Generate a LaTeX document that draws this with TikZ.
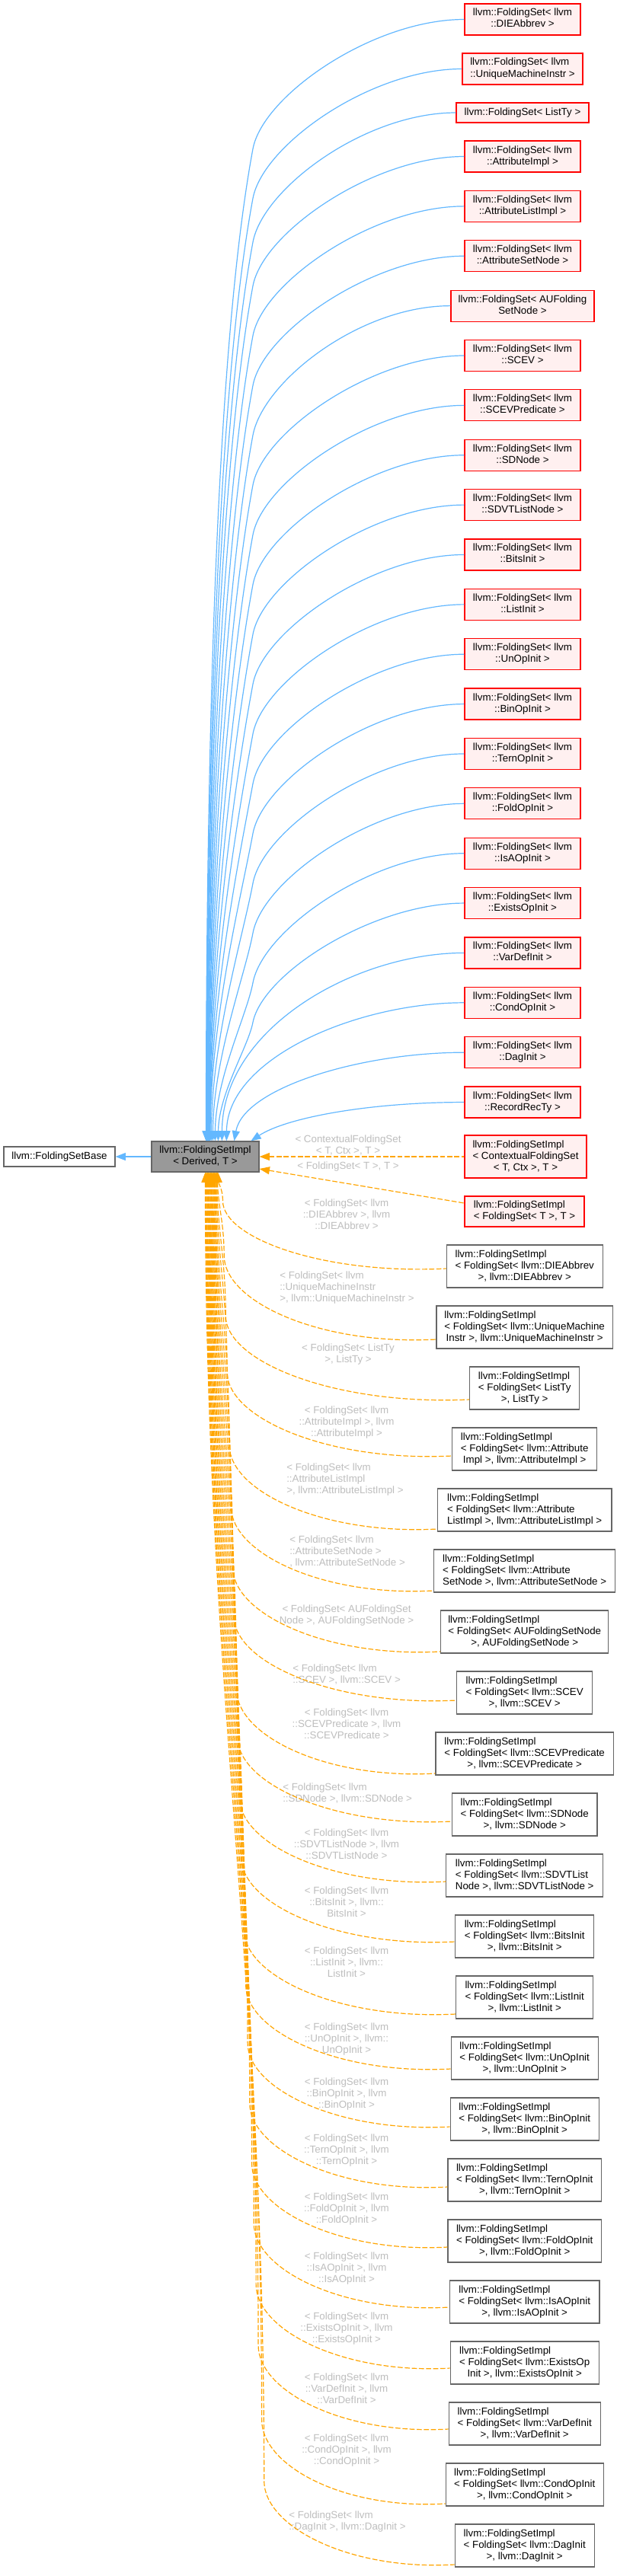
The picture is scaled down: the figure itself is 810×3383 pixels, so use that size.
\documentclass[tikz,border=0pt]{standalone}
\usepackage{fontspec}
\setmainfont{Liberation Sans}
\usetikzlibrary{arrows.meta,calc}
\definecolor{rfill}{HTML}{FFF0F0}
\definecolor{rline}{HTML}{FF0000}
\definecolor{gline}{HTML}{666666}
\definecolor{mfill}{HTML}{999999}
\definecolor{bblue}{HTML}{63B8FF}
\definecolor{oorange}{HTML}{FFA500}
\definecolor{lgrey}{HTML}{BEBEBE}
\newcommand\bxone[1]{\begin{tabular}{@{}c@{}}#1\end{tabular}}
\newcommand\bxtwo[2]{\begin{tabular}{@{}l@{}}#1\\\multicolumn{1}{@{}c@{}}{#2}\end{tabular}}
\newcommand\bxthree[3]{\begin{tabular}{@{}l@{}}#1\\#2\\\multicolumn{1}{@{}c@{}}{#3}\end{tabular}}
\newcommand\labc[1]{\begin{tabular}{@{}c@{}}#1\end{tabular}}
\newcommand\labl[1]{\begin{tabular}{@{}l@{}}#1\end{tabular}}
\tikzset{
  nfont/.style={font=\fontsize{10}{11.25}\selectfont},
  basebox/.style={draw, line width=0.9pt, inner sep=0pt, nfont},
  redbox/.style 2 args={basebox, draw=rline, fill=rfill, minimum width=#1*0.75pt, minimum height=#2*0.75pt},
  graybox/.style 2 args={basebox, draw=gline, fill=white, minimum width=#1*0.75pt, minimum height=#2*0.75pt},
  mainbox/.style 2 args={basebox, draw=gline, fill=mfill, minimum width=#1*0.75pt, minimum height=#2*0.75pt},
  lbl/.style={text=lgrey, inner sep=0pt, nfont},
  bedge/.style={draw=bblue, line width=0.9pt, arrows={Triangle[length=10pt,width=7.5pt]-}},
  oedge/.style={draw=oorange, line width=0.9pt, dash pattern=on 5pt off 2pt, arrows={Triangle[length=10pt,width=7.5pt]-}},
}
\begin{document}
\begin{tikzpicture}[x=0.75pt,y=-0.75pt]
\fill[white] (0,0) rectangle (810,3383);
\useasboundingbox (0,0) rectangle (810,3383);

% central nodes
\node[mainbox={141}{40}] (main) at (269.5,1519) {\bxtwo{llvm::FoldingSetImpl}{< Derived, T >}};
\node[graybox={146}{26}] (base) at (78,1519) {\bxone{llvm::FoldingSetBase}};

% red derived FoldingSet boxes
\node[redbox={152}{41}] (r0) at (686,25.5) {\bxtwo{llvm::FoldingSet< llvm}{::DIEAbbrev >}};
\node[redbox={158}{41}] (r1) at (686,90.5) {\bxtwo{llvm::FoldingSet< llvm}{::UniqueMachineInstr >}};
\node[redbox={174}{26}] (r2) at (686,148) {\bxone{llvm::FoldingSet< ListTy >}};
\node[redbox={188}{41}] (r6) at (686,401.61) {\bxtwo{llvm::FoldingSet< AUFolding}{SetNode >}};
\foreach \k/\nm in {3/AttributeImpl,4/AttributeListImpl,5/AttributeSetNode,7/SCEV,8/SCEVPredicate,9/SDNode,10/SDVTListNode,11/BitsInit,12/ListInit,13/UnOpInit,14/BinOpInit,15/TernOpInit,16/FoldOpInit,17/IsAOpInit,18/ExistsOpInit,19/VarDefInit,20/CondOpInit,21/DagInit,22/RecordRecTy}{
  \pgfmathsetmacro\ry{205.5+65.37*(\k-3)}
  \node[redbox={152}{41}] (r\k) at (686,\ry) {\bxtwo{llvm::FoldingSet< llvm}{::\nm{} >}};
}

% red impl boxes
\node[redbox={160}{56}] (ctx) at (690,1519) {\bxthree{llvm::FoldingSetImpl}{< ContextualFoldingSet}{< T, Ctx >, T >}};
\node[redbox={157}{40}] (fst) at (688.5,1591) {\bxtwo{llvm::FoldingSetImpl}{< FoldingSet< T >, T >}};

% gray impl boxes
\node[graybox={205}{56}] (b1) at (688.7,1663) {\bxthree{llvm::FoldingSetImpl}{< FoldingSet< llvm::DIEAbbrev}{>, llvm::DIEAbbrev >}};
\node[graybox={231.6}{56}] (b2) at (688.7,1743) {\bxthree{llvm::FoldingSetImpl}{< FoldingSet< llvm::UniqueMachine}{Instr >, llvm::UniqueMachineInstr >}};
\node[graybox={144}{56}] (b3) at (688.7,1823) {\bxthree{llvm::FoldingSetImpl}{< FoldingSet< ListTy}{>, ListTy >}};
\node[graybox={190}{56}] (b4) at (688.7,1903) {\bxthree{llvm::FoldingSetImpl}{< FoldingSet< llvm::Attribute}{Impl >, llvm::AttributeImpl >}};
\node[graybox={228.4}{56}] (b5) at (688.7,1983) {\bxthree{llvm::FoldingSetImpl}{< FoldingSet< llvm::Attribute}{ListImpl >, llvm::AttributeListImpl >}};
\node[graybox={238.3}{56}] (b6) at (688.7,2063) {\bxthree{llvm::FoldingSetImpl}{< FoldingSet< llvm::Attribute}{SetNode >, llvm::AttributeSetNode >}};
\node[graybox={220}{56}] (b7) at (688.7,2143) {\bxthree{llvm::FoldingSetImpl}{< FoldingSet< AUFoldingSetNode}{>, AUFoldingSetNode >}};
\node[graybox={178}{56}] (b8) at (688.7,2223) {\bxthree{llvm::FoldingSetImpl}{< FoldingSet< llvm::SCEV}{>, llvm::SCEV >}};
\node[graybox={233.4}{56}] (b9) at (688.7,2303) {\bxthree{llvm::FoldingSetImpl}{< FoldingSet< llvm::SCEVPredicate}{>, llvm::SCEVPredicate >}};
\node[graybox={190.6}{56}] (b10) at (688.7,2383) {\bxthree{llvm::FoldingSetImpl}{< FoldingSet< llvm::SDNode}{>, llvm::SDNode >}};
\node[graybox={205.7}{56}] (b11) at (688.7,2463) {\bxthree{llvm::FoldingSetImpl}{< FoldingSet< llvm::SDVTList}{Node >, llvm::SDVTListNode >}};
\node[graybox={182}{56}] (b12) at (688.7,2543) {\bxthree{llvm::FoldingSetImpl}{< FoldingSet< llvm::BitsInit}{>, llvm::BitsInit >}};
\node[graybox={180.2}{56}] (b13) at (688.7,2623) {\bxthree{llvm::FoldingSetImpl}{< FoldingSet< llvm::ListInit}{>, llvm::ListInit >}};
\node[graybox={193.2}{56}] (b14) at (688.7,2703) {\bxthree{llvm::FoldingSetImpl}{< FoldingSet< llvm::UnOpInit}{>, llvm::UnOpInit >}};
\node[graybox={195.2}{56}] (b15) at (688.7,2783) {\bxthree{llvm::FoldingSetImpl}{< FoldingSet< llvm::BinOpInit}{>, llvm::BinOpInit >}};
\node[graybox={201.4}{56}] (b16) at (688.7,2863) {\bxthree{llvm::FoldingSetImpl}{< FoldingSet< llvm::TernOpInit}{>, llvm::TernOpInit >}};
\node[graybox={201.4}{56}] (b17) at (688.7,2943) {\bxthree{llvm::FoldingSetImpl}{< FoldingSet< llvm::FoldOpInit}{>, llvm::FoldOpInit >}};
\node[graybox={196.4}{56}] (b18) at (688.7,3023) {\bxthree{llvm::FoldingSetImpl}{< FoldingSet< llvm::IsAOpInit}{>, llvm::IsAOpInit >}};
\node[graybox={194.9}{56}] (b19) at (688.7,3103) {\bxthree{llvm::FoldingSetImpl}{< FoldingSet< llvm::ExistsOp}{Init >, llvm::ExistsOpInit >}};
\node[graybox={198.8}{56}] (b20) at (688.7,3183) {\bxthree{llvm::FoldingSetImpl}{< FoldingSet< llvm::VarDefInit}{>, llvm::VarDefInit >}};
\node[graybox={207.1}{56}] (b21) at (688.7,3263) {\bxthree{llvm::FoldingSetImpl}{< FoldingSet< llvm::CondOpInit}{>, llvm::CondOpInit >}};
\node[graybox={183}{56}] (b22) at (688.7,3343) {\bxthree{llvm::FoldingSetImpl}{< FoldingSet< llvm::DagInit}{>, llvm::DagInit >}};

% edge labels
\node[lbl] (lctx) at (457,1504.5) {\labc{< ContextualFoldingSet\\< T, Ctx >, T >}};
\node[lbl] (lfst) at (457,1532) {\labc{< FoldingSet< T >, T >}};
\node[lbl] (l1) at (455,1596) {\labc{< FoldingSet< llvm\\::DIEAbbrev >, llvm\\::DIEAbbrev >}};
\node[lbl,anchor=west] (l2) at (367,1691) {\labl{< FoldingSet< llvm\\::UniqueMachineInstr\\>, llvm::UniqueMachineInstr >}};
\node[lbl] (l3) at (457,1778.5) {\labc{< FoldingSet< ListTy\\>, ListTy >}};
\node[lbl] (l4) at (455,1868) {\labc{< FoldingSet< llvm\\::AttributeImpl >, llvm\\::AttributeImpl >}};
\node[lbl,anchor=west] (l5) at (376,1943) {\labl{< FoldingSet< llvm\\::AttributeListImpl\\>, llvm::AttributeListImpl >}};
\node[lbl,anchor=west] (l6) at (380,2038) {\labl{< FoldingSet< llvm\\::AttributeSetNode >\\, llvm::AttributeSetNode >}};
\node[lbl] (l7) at (455,2121.5) {\labc{< FoldingSet< AUFoldingSet\\Node >, AUFoldingSetNode >}};
\node[lbl,anchor=west] (l8) at (384,2199.5) {\labl{< FoldingSet< llvm\\::SCEV >, llvm::SCEV >}};
\node[lbl] (l9) at (455,2265) {\labc{< FoldingSet< llvm\\::SCEVPredicate >, llvm\\::SCEVPredicate >}};
\node[lbl,anchor=west] (l10) at (371,2355.5) {\labl{< FoldingSet< llvm\\::SDNode >, llvm::SDNode >}};
\node[lbl] (l11) at (455,2423) {\labc{< FoldingSet< llvm\\::SDVTListNode >, llvm\\::SDVTListNode >}};
\node[lbl] (l12) at (455,2499) {\labc{< FoldingSet< llvm\\::BitsInit >, llvm::\\BitsInit >}};
\node[lbl] (l13) at (455,2578) {\labc{< FoldingSet< llvm\\::ListInit >, llvm::\\ListInit >}};
\node[lbl] (l14) at (455,2678) {\labc{< FoldingSet< llvm\\::UnOpInit >, llvm::\\UnOpInit >}};
\node[lbl] (l15) at (455,2750) {\labc{< FoldingSet< llvm\\::BinOpInit >, llvm\\::BinOpInit >}};
\node[lbl] (l16) at (455,2824) {\labc{< FoldingSet< llvm\\::TernOpInit >, llvm\\::TernOpInit >}};
\node[lbl] (l17) at (455,2901) {\labc{< FoldingSet< llvm\\::FoldOpInit >, llvm\\::FoldOpInit >}};
\node[lbl] (l18) at (455,2979) {\labc{< FoldingSet< llvm\\::IsAOpInit >, llvm\\::IsAOpInit >}};
\node[lbl] (l19) at (455,3058) {\labc{< FoldingSet< llvm\\::ExistsOpInit >, llvm\\::ExistsOpInit >}};
\node[lbl] (l20) at (455,3138) {\labc{< FoldingSet< llvm\\::VarDefInit >, llvm\\::VarDefInit >}};
\node[lbl] (l21) at (455,3218) {\labc{< FoldingSet< llvm\\::CondOpInit >, llvm\\::CondOpInit >}};
\node[lbl,anchor=west] (l22) at (379,3311.5) {\labl{< FoldingSet< llvm\\::DagInit >, llvm::DagInit >}};

% base edge
\draw[bedge] (base.east) -- (main.west);

% blue edges, long ones (two segments)
\foreach \k/\yk/\xe in {0/25.5/271,1/90.5/271.4,2/148/271.8,3/205.5/272.2,4/270.87/272.6,5/336.24/273,6/401.61/273.4,7/466.98/273.8,8/532.35/274.2,9/597.72/274.6,10/663.09/275,11/728.46/275.4,12/793.83/275.8,13/859.2/276.2,14/924.57/276.6,15/989.94/278,16/1055.31/280,17/1120.68/283,18/1186.05/287}{
  \pgfmathsetmacro\bs{1499-\yk}
  \pgfmathsetmacro\bkd{min(170,0.5*\bs)}
  \pgfmathsetmacro\byK{\yk+\bkd}
  \pgfmathsetmacro\bay{\yk+\bkd/1.7}
  \pgfmathsetmacro\bsp{1499-\byK}
  \pgfmathsetmacro\bxo{332-0.0372*\bsp}
  \pgfmathsetmacro\byo{\byK+0.2*\bsp}
  \pgfmathsetmacro\byt{1499-0.4*\bsp}
  \path (main.north west) ++(\xe-199,0) coordinate (mt\k);
  \draw[bedge] (mt\k) .. controls (\xe,\byt) and (\bxo,\byo) .. (332,\byK) .. controls (345,\bay) and +(-120,0) .. (r\k.west);
}
% blue edges, short ones
\foreach \k/\yk/\xe/\cxo in {19/1251.42/292/0,20/1316.79/298/0,21/1382.16/308/12,22/1447.53/330/45}{
  \pgfmathsetmacro\bs{1499-\yk}
  \pgfmathsetmacro\sya{1499-0.6*\bs}
  \pgfmathsetmacro\sxa{\xe+\cxo}
  \pgfmathsetmacro\sxb{-0.45*(610-\xe)}
  \path (main.north west) ++(\xe-199,0) coordinate (mt\k);
  \draw[bedge] (mt\k) .. controls (\sxa,\sya) and +(\sxb,0) .. (r\k.west);
}

% orange edges to the red impl boxes
\draw[oedge] (main.east) -- (ctx.west);
\draw[oedge] ($(main.east)+(0,16)$) -- ($(fst.west)+(0,-11)$);

% orange edges to gray impl boxes
\foreach \i/\off/\xl in {1/3/586.2,2/16/572.9,3/15/616.7,4/9/593.7,5/25/574.5,6/26/569.55,7/26/578.7,8/10/599.7,9/26/572,10/9/593.4,11/8/585.85,12/7/597.7,13/22/598.6,14/14/592.1,15/10/591.1,16/9/588,17/8/588,18/7/590.5,19/7/591.25,20/7/589.3,21/25/585.15,22/25/597.2}{
  \pgfmathsetmacro\oya{1663+80*(\i-1)+\off}
  \pgfmathsetmacro\oxe{270+0.8*(22-\i)}
  \pgfmathsetmacro\ohh{min(110,0.7*(\oya-1539))}
  \pgfmathsetmacro\oyK{\oya-\ohh}
  \pgfmathsetmacro\ouu{(\oyK-1539)/1700}
  \pgfmathsetmacro\oxk{270+75*\ouu*\ouu+(1+3*\ouu)*(22-\i)}
  \pgfmathsetmacro\oca{1539+0.4*(\oyK-1539)}
  \pgfmathsetmacro\ocb{\oyK-0.4*(\oyK-1539)}
  \pgfmathsetmacro\occ{\oyK+0.55*\ohh}
  \pgfmathsetmacro\ocdx{\xl-0.55*(\xl-\oxk)}
  \pgfmathsetmacro\ocdy{\oya+8}
  \path (main.south west) ++(\oxe-199,0) coordinate (mb\i);
  \draw[oedge] (mb\i) .. controls (\oxe,\oca) and (\oxk,\ocb) .. (\oxk,\oyK) .. controls (\oxk,\occ) and (\ocdx,\ocdy) .. ($(b\i.west)+(0,\off)$);
}
\end{tikzpicture}
\end{document}
